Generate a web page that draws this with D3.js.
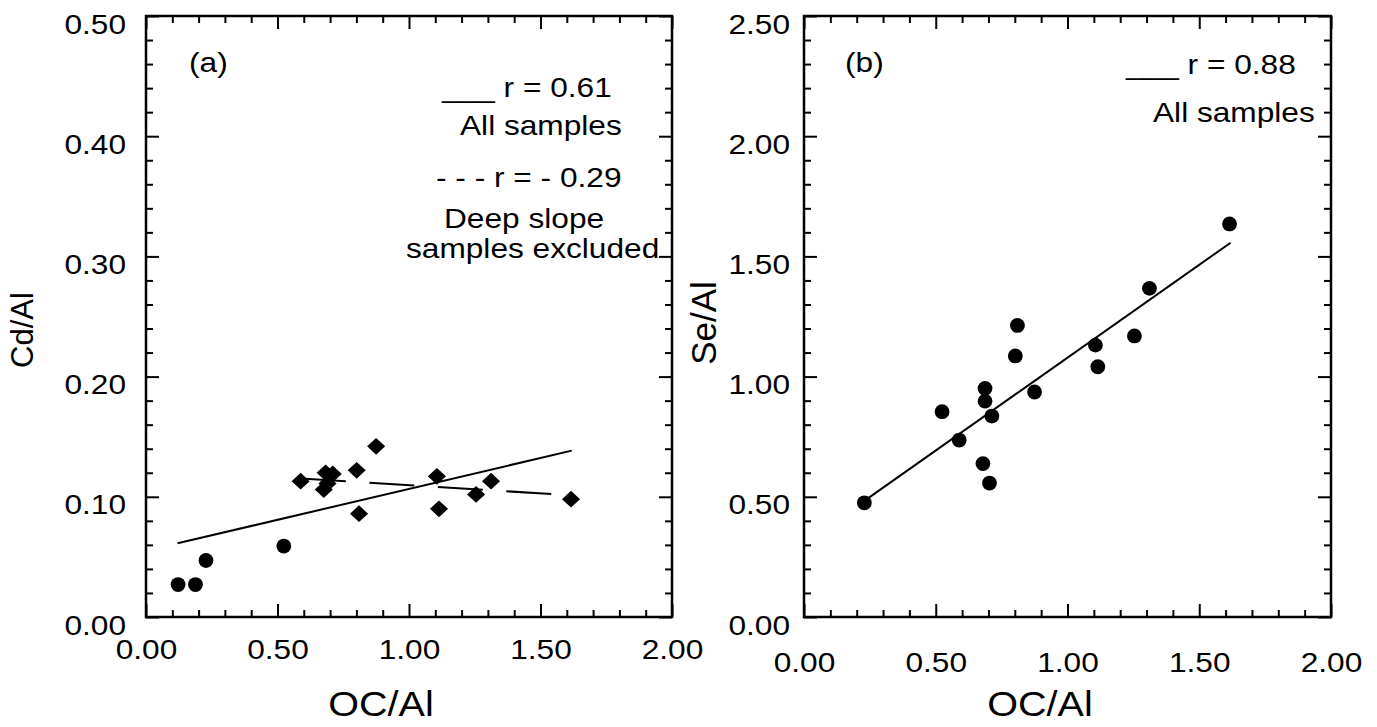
<!DOCTYPE html>
<html>
<head>
<meta charset="utf-8">
<script src="https://cdn.jsdelivr.net/npm/d3@7"></script>
<style>
  body { margin: 0; background: #fff; }
  text { font-family: "Liberation Sans", Arial, Helvetica, sans-serif; fill: #000; }
</style>
</head>
<body>
<script>
// ---- data ----
var xTickLabels = [0, 0.5, 1.0, 1.5, 2.0];
var cdTickLabels = [0, 0.1, 0.2, 0.3, 0.4, 0.5];
var seTickLabels = [0, 0.5, 1.0, 1.5, 2.0, 2.5];

// (a) Cd/Al vs OC/Al
var cdCircleX = [0.122, 0.188, 0.228, 0.524];
var cdCircleY = [0.027, 0.027, 0.047, 0.059];
var cdDiamondX = [0.588, 0.683, 0.710, 0.676, 0.690, 0.801, 0.875, 0.810, 1.106, 1.114, 1.255, 1.312, 1.616];
var cdDiamondY = [0.113, 0.120, 0.119, 0.106, 0.111, 0.122, 0.142, 0.086, 0.117, 0.090, 0.102, 0.113, 0.098];
var cdFitAllX = [0.120, 1.619], cdFitAllY = [0.0613, 0.1384];
var cdFitDeepX = [0.589, 1.547], cdFitDeepY = [0.1152, 0.1022];

// (b) Se/Al vs OC/Al
var seX = [0.229, 0.524, 0.589, 0.687, 0.687, 0.713, 0.679, 0.704, 0.802, 0.810, 0.875, 1.106, 1.115, 1.254, 1.311, 1.615];
var seY = [0.475, 0.854, 0.736, 0.951, 0.898, 0.836, 0.638, 0.557, 1.086, 1.213, 0.936, 1.131, 1.041, 1.169, 1.367, 1.635];
var seFitX = [0.229, 1.619], seFitY = [0.483, 1.557];

var STRETCH = 1.13;
var fmt = d3.format(".2f");

var svg = d3.select("body").append("svg")
    .attr("width", 1377)
    .attr("height", 727);

function panel(cfg) {
    var g = svg.append("g")
        .attr("transform", "translate(" + cfg.left + "," + cfg.top + ")");

    var x = d3.scaleLinear().domain([0, 2]).range([0, cfg.w]);
    var y = d3.scaleLinear().domain([0, cfg.yMax]).range([cfg.h, 0]);

    var xMinor = d3.range(1, 20).map(function(i) { return i / 10; })
        .filter(function(v) { return Math.abs(v * 2 - Math.round(v * 2)) > 1e-6; });
    var yMinor = d3.range(1, cfg.yMinorCount).map(function(i) { return i * cfg.yMinorStep; })
        .filter(function(v) { return Math.abs(v / cfg.yMajorStep - Math.round(v / cfg.yMajorStep)) > 1e-6; });

    // inward ticks on all four sides
    function ticks(axis, values, size, tr) {
        var a = g.append("g").attr("class", "ticks")
            .attr("transform", tr || null)
            .call(axis.tickValues(values).tickSize(-size).tickFormat(""));
        a.select(".domain").remove();
        a.selectAll("line").attr("stroke", "#000").attr("stroke-width", 2);
    }
    ticks(d3.axisBottom(x), cfg.xTicks, 13, "translate(0," + cfg.h + ")");
    ticks(d3.axisBottom(x), xMinor, 7, "translate(0," + cfg.h + ")");
    ticks(d3.axisTop(x), cfg.xTicks, 13);
    ticks(d3.axisTop(x), xMinor, 7);
    ticks(d3.axisLeft(y), cfg.yTicks, 13);
    ticks(d3.axisLeft(y), yMinor, 7);
    ticks(d3.axisRight(y), cfg.yTicks, 13, "translate(" + cfg.w + ",0)");
    ticks(d3.axisRight(y), yMinor, 7, "translate(" + cfg.w + ",0)");

    // frame
    g.append("rect")
        .attr("width", cfg.w).attr("height", cfg.h)
        .attr("fill", "none").attr("stroke", "#000").attr("stroke-width", 2.5);

    // tick labels
    var xl = g.append("g")
        .attr("transform", "translate(0," + cfg.h + ")")
        .call(d3.axisBottom(x).tickValues(cfg.xTicks).tickSize(0).tickFormat(fmt));
    xl.select(".domain").remove();
    xl.attr("font-size", 28).attr("font-family", null);
    xl.selectAll("text").attr("class", "st").attr("y", cfg.xLabelY).attr("dy", 0);

    var yl = g.append("g")
        .call(d3.axisLeft(y).tickValues(cfg.yTicks).tickSize(0).tickFormat(fmt));
    yl.select(".domain").remove();
    yl.attr("font-size", 28).attr("font-family", null);
    yl.selectAll("text").attr("class", "st").attr("x", -cfg.yLabelGap).attr("dy", 17);

    // axis titles
    g.append("text")
        .attr("class", "st")
        .attr("x", cfg.xTitleX).attr("y", 716 - cfg.top)
        .attr("text-anchor", "middle")
        .attr("font-size", 35)
        .text("OC/Al");
    g.append("text")
        .attr("transform", "translate(" + cfg.yTitleX + "," + cfg.yTitleY + ") rotate(-90)")
        .attr("text-anchor", "middle")
        .attr("font-size", cfg.yTitleSize)
        .text(cfg.yTitle);

    return { g: g, x: x, y: y };
}

// ---- panel (a) ----
var A = panel({
    left: 146, top: 16, w: 526, h: 601, yMax: 0.5,
    xTicks: xTickLabels, yTicks: cdTickLabels,
    yMinorStep: 0.02, yMinorCount: 25, yMajorStep: 0.1,
    xLabelY: 42, yLabelGap: 20,
    xTitleX: 381 - 146, yTitleX: 33 - 146, yTitleY: 330 - 16,
    yTitle: "Cd/Al", yTitleSize: 31
});

var line = d3.line();
A.g.append("path")
    .attr("d", line(cdFitAllX.map(function(v, i) { return [A.x(v), A.y(cdFitAllY[i])]; })))
    .attr("stroke", "#000").attr("stroke-width", 2).attr("fill", "none");
A.g.append("path")
    .attr("d", line(cdFitDeepX.map(function(v, i) { return [A.x(v), A.y(cdFitDeepY[i])]; })))
    .attr("stroke", "#000").attr("stroke-width", 2).attr("fill", "none")
    .attr("stroke-dasharray", "45,23.6");

A.g.selectAll("circle.pt")
    .data(cdCircleX)
    .enter().append("circle")
        .attr("class", "pt")
        .attr("cx", function(d) { return A.x(d); })
        .attr("cy", function(d, i) { return A.y(cdCircleY[i]); })
        .attr("r", 7.4)
        .attr("fill", "#000");

var diamond = d3.symbol().type(d3.symbolSquare).size(140);
A.g.selectAll("path.dm")
    .data(cdDiamondX)
    .enter().append("path")
        .attr("class", "dm")
        .attr("d", diamond)
        .attr("transform", function(d, i) {
            return "translate(" + A.x(d) + "," + A.y(cdDiamondY[i]) + ") scale(1.08,1) rotate(45)";
        })
        .attr("fill", "#000");

function label(g, x, y, txt) {
    g.append("text").attr("class", "st")
        .attr("x", x).attr("y", y)
        .attr("font-size", 28)
        .text(txt);
}
label(A.g, 189 - 146, 72 - 16, "(a)");
label(A.g, 442 - 146, 97 - 16, "___ r = 0.61");
label(A.g, 460 - 146, 135 - 16, "All samples");
label(A.g, 436 - 146, 187 - 16, "- - - r = - 0.29");
label(A.g, 444 - 146, 228 - 16, "Deep slope");
label(A.g, 406 - 146, 258 - 16, "samples excluded");

// ---- panel (b) ----
var B = panel({
    left: 804, top: 16, w: 527, h: 601, yMax: 2.5,
    xTicks: xTickLabels, yTicks: seTickLabels,
    yMinorStep: 0.1, yMinorCount: 25, yMajorStep: 0.5,
    xLabelY: 55, yLabelGap: 14,
    xTitleX: 1040 - 804, yTitleX: 716 - 804, yTitleY: 323 - 16,
    yTitle: "Se/Al", yTitleSize: 35
});

B.g.append("path")
    .attr("d", line(seFitX.map(function(v, i) { return [B.x(v), B.y(seFitY[i])]; })))
    .attr("stroke", "#000").attr("stroke-width", 2).attr("fill", "none");

B.g.selectAll("circle.pt")
    .data(seX)
    .enter().append("circle")
        .attr("class", "pt")
        .attr("cx", function(d) { return B.x(d); })
        .attr("cy", function(d, i) { return B.y(seY[i]); })
        .attr("r", 7.4)
        .attr("fill", "#000");

label(B.g, 845 - 804, 72 - 16, "(b)");
label(B.g, 1126 - 804, 74 - 16, "___ r = 0.88");
label(B.g, 1153 - 804, 122 - 16, "All samples");

// the source figure's lettering is a little wider than Arial
d3.selectAll("text.st").each(function() {
    var w = this.getComputedTextLength();
    d3.select(this).attr("textLength", w * STRETCH).attr("lengthAdjust", "spacingAndGlyphs");
});
</script>
</body>
</html>
